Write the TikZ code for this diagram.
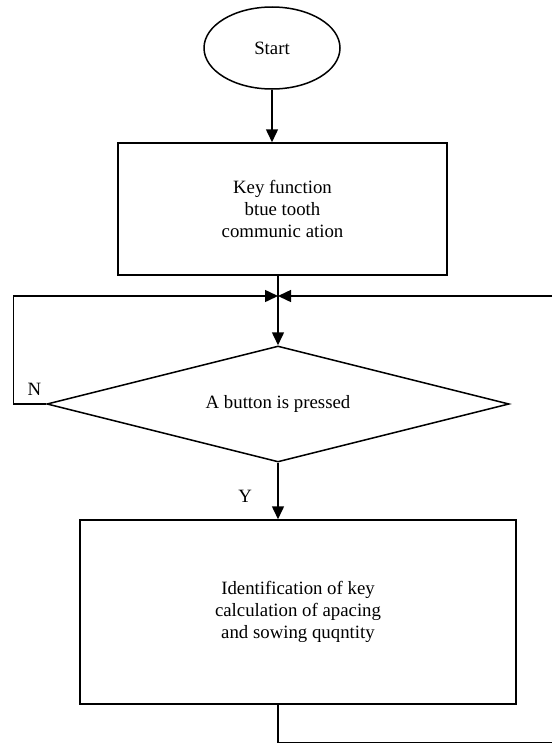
\documentclass[tikz,border=0pt]{standalone}
\usepackage{fontspec}
\setmainfont{Liberation Serif}
\usetikzlibrary{arrows.meta, shapes.geometric, positioning}

\tikzset{
  startbox/.style={draw, ellipse, inner sep=0pt, minimum width=136pt, minimum height=82pt},
  procbox/.style={draw, rectangle, inner sep=0pt, align=center},
  testbox/.style={draw, diamond, aspect=3.98, inner sep=0pt, minimum width=462pt, minimum height=116pt},
}

\begin{document}
\begin{tikzpicture}[x=1pt, y=-1pt, >={Triangle[length=13pt,width=12pt]}, line width=1.5pt,
    font=\fontsize{18.8}{22}\selectfont]
    \useasboundingbox (0,0) rectangle (552,744);

    %--- blocks
    \node[startbox] (start) at (272,48) {Start};
    \node[procbox, minimum width=329pt, minimum height=132pt] (keyfn) at (282.5,209)
        {Key function\\btue tooth\\communic ation};
    \node[testbox] (press) at (278,404) {A button is pressed};
    \node[procbox, minimum width=436pt, minimum height=184pt] (ident) at (298,612)
        {Identification of key\\calculation of apacing\\and sowing quqntity};

    %--- junction above the test and loose ends at the page edge
    \coordinate (join)  at (press.north |- 0,296);
    \coordinate (fromR) at (552,296);
    \coordinate (back)  at (552,742.5);

    %--- connectors
    \draw[->] (start.south) -- (start.south |- keyfn.north);
    \draw (keyfn.south -| join) -- (join);
    \draw[->] (join) -- (press.north);
    \draw[->] (fromR) -- (join);
    \draw[->] (press.west) -- ++(-33,0) |- (join);
    \node[above left=4pt and 1pt] at (press.west) {N};
    \draw[->] (press.south) -- (press.south |- ident.north)
        node[midway, left=22pt, yshift=-5pt] {Y};
    \draw (ident.south -| press.south) |- (back);
\end{tikzpicture}
\end{document}
